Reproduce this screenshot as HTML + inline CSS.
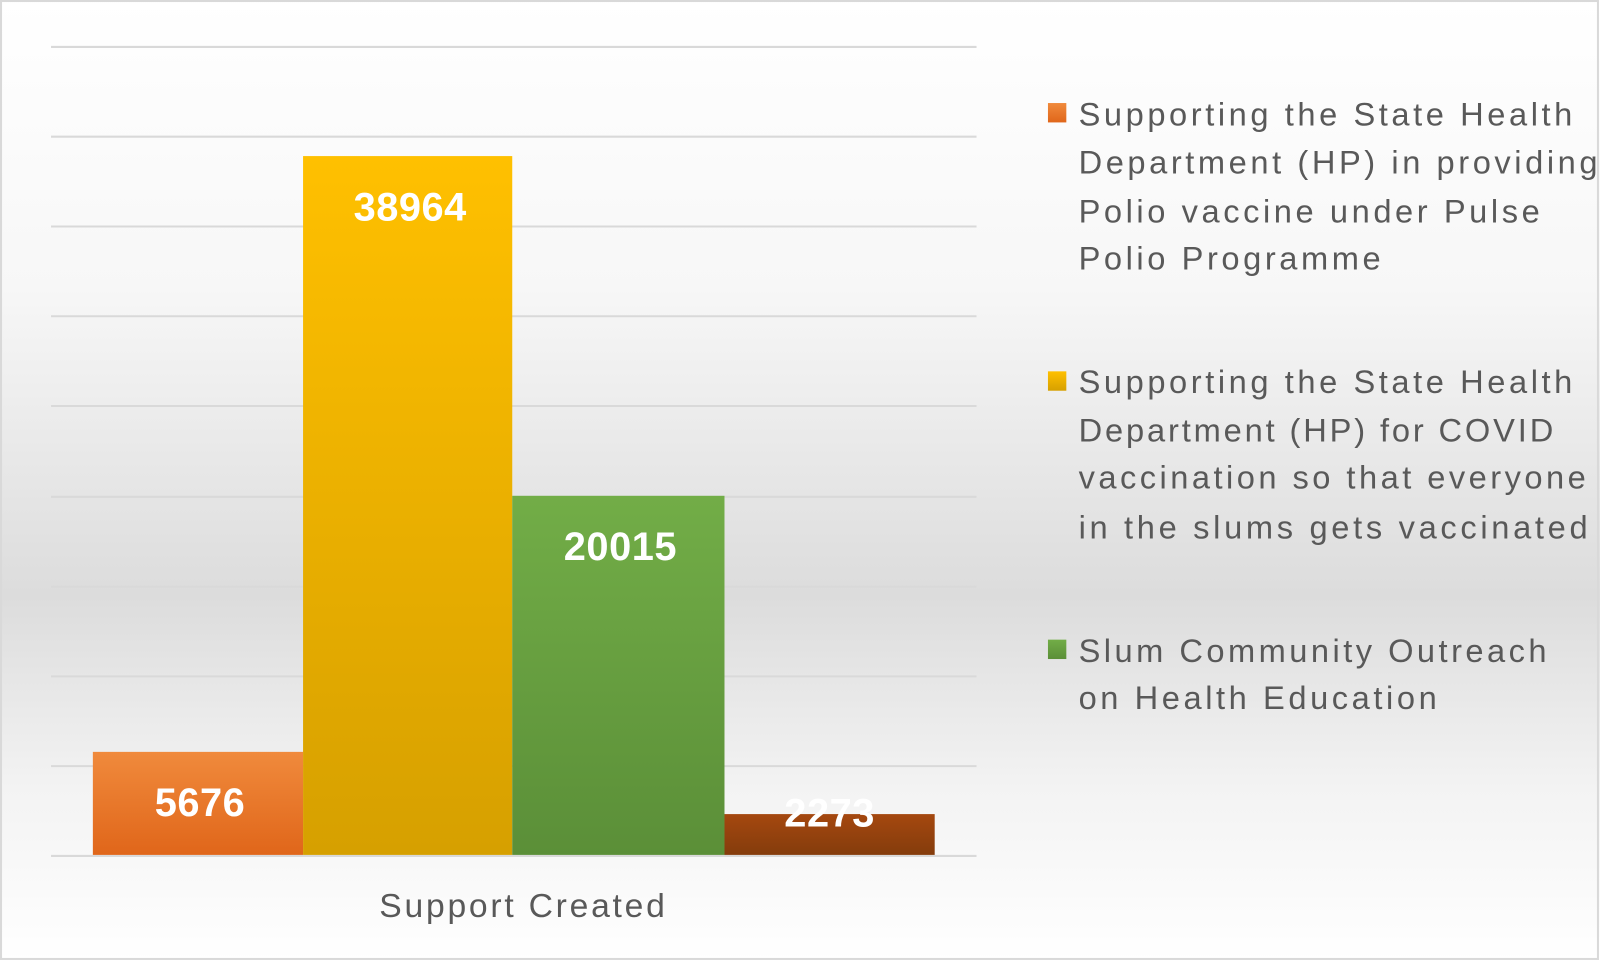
<!DOCTYPE html>
<html><head><meta charset="utf-8"><style>
html,body{margin:0;padding:0;width:1600px;height:961px;overflow:hidden;background:#fff}
svg{display:block}
text{font-family:"Liberation Sans",sans-serif}
</style></head><body>
<svg width="1600" height="961" viewBox="0 0 1568 942" preserveAspectRatio="none">
<defs>
<linearGradient id="bg" x1="0" y1="0" x2="0" y2="1">
<stop offset="0" stop-color="#ffffff"/><stop offset="0.3" stop-color="#f7f7f7"/>
<stop offset="0.62" stop-color="#dcdcdc"/><stop offset="0.82" stop-color="#f3f3f3"/><stop offset="1" stop-color="#ffffff"/>
</linearGradient>
<linearGradient id="o" x1="0" y1="0" x2="0" y2="1"><stop offset="0" stop-color="#f08a3c"/><stop offset="1" stop-color="#e0661a"/></linearGradient>
<linearGradient id="y" x1="0" y1="0" x2="0" y2="1"><stop offset="0" stop-color="#ffc000"/><stop offset="1" stop-color="#d6a000"/></linearGradient>
<linearGradient id="g" x1="0" y1="0" x2="0" y2="1"><stop offset="0" stop-color="#72ad47"/><stop offset="1" stop-color="#5b8f38"/></linearGradient>
<linearGradient id="b" x1="0" y1="0" x2="0" y2="1"><stop offset="0" stop-color="#a5480f"/><stop offset="1" stop-color="#843c0c"/></linearGradient>
<clipPath id="c"><rect x="0" y="0" width="1565" height="942"/></clipPath>
</defs>
<rect x="0" y="0" width="1568" height="942" fill="url(#bg)"/>
<rect x="1" y="1" width="1565" height="939" fill="none" stroke="#d9d9d9" stroke-width="2"/>
<g stroke="#d9d9d9" stroke-width="2">
<line x1="50" x2="957" y1="46" y2="46"/><line x1="50" x2="957" y1="134" y2="134"/>
<line x1="50" x2="957" y1="222" y2="222"/><line x1="50" x2="957" y1="310" y2="310"/>
<line x1="50" x2="957" y1="398" y2="398"/><line x1="50" x2="957" y1="487" y2="487"/>
<line x1="50" x2="957" y1="575" y2="575"/><line x1="50" x2="957" y1="663" y2="663"/>
<line x1="50" x2="957" y1="751" y2="751"/><line x1="50" x2="957" y1="839" y2="839"/>
</g>
<rect x="91" y="737" width="206" height="101" fill="url(#o)"/>
<rect x="297" y="153" width="205" height="685" fill="url(#y)"/>
<rect x="502" y="486" width="208" height="352" fill="url(#g)"/>
<rect x="710" y="798" width="206" height="40" fill="url(#b)"/>
<g fill="#fff" font-weight="bold" font-size="39" text-anchor="middle" letter-spacing="0.5">
<text x="196" y="800">5676</text><text x="402" y="216">38964</text>
<text x="608" y="549">20015</text><text x="813" y="810">2273</text>
</g>
<text x="513" y="899" font-size="33" fill="#595959" text-anchor="middle" letter-spacing="2.7">Support Created</text>
<g clip-path="url(#c)" fill="#595959" font-size="32" letter-spacing="3.5">
<rect x="1027" y="101" width="18" height="19" fill="url(#o)"/>
<rect x="1027" y="364" width="18" height="19" fill="url(#y)"/>
<rect x="1027" y="627" width="18" height="19" fill="url(#g)"/>
<text x="1057" y="123">Supporting the State Health</text>
<text x="1057" y="170">Department (HP) in providing</text>
<text x="1057" y="218">Polio vaccine under Pulse</text>
<text x="1057" y="264">Polio Programme</text>
<text x="1057" y="385">Supporting the State Health</text>
<text x="1057" y="433" letter-spacing="2.8">Department (HP) for COVID</text>
<text x="1057" y="479" letter-spacing="3.4">vaccination so that everyone</text>
<text x="1057" y="528" letter-spacing="3.6">in the slums gets vaccinated</text>
<text x="1057" y="649" letter-spacing="3.4">Slum Community Outreach</text>
<text x="1057" y="695">on Health Education</text>
</g>
</svg>
</body></html>
